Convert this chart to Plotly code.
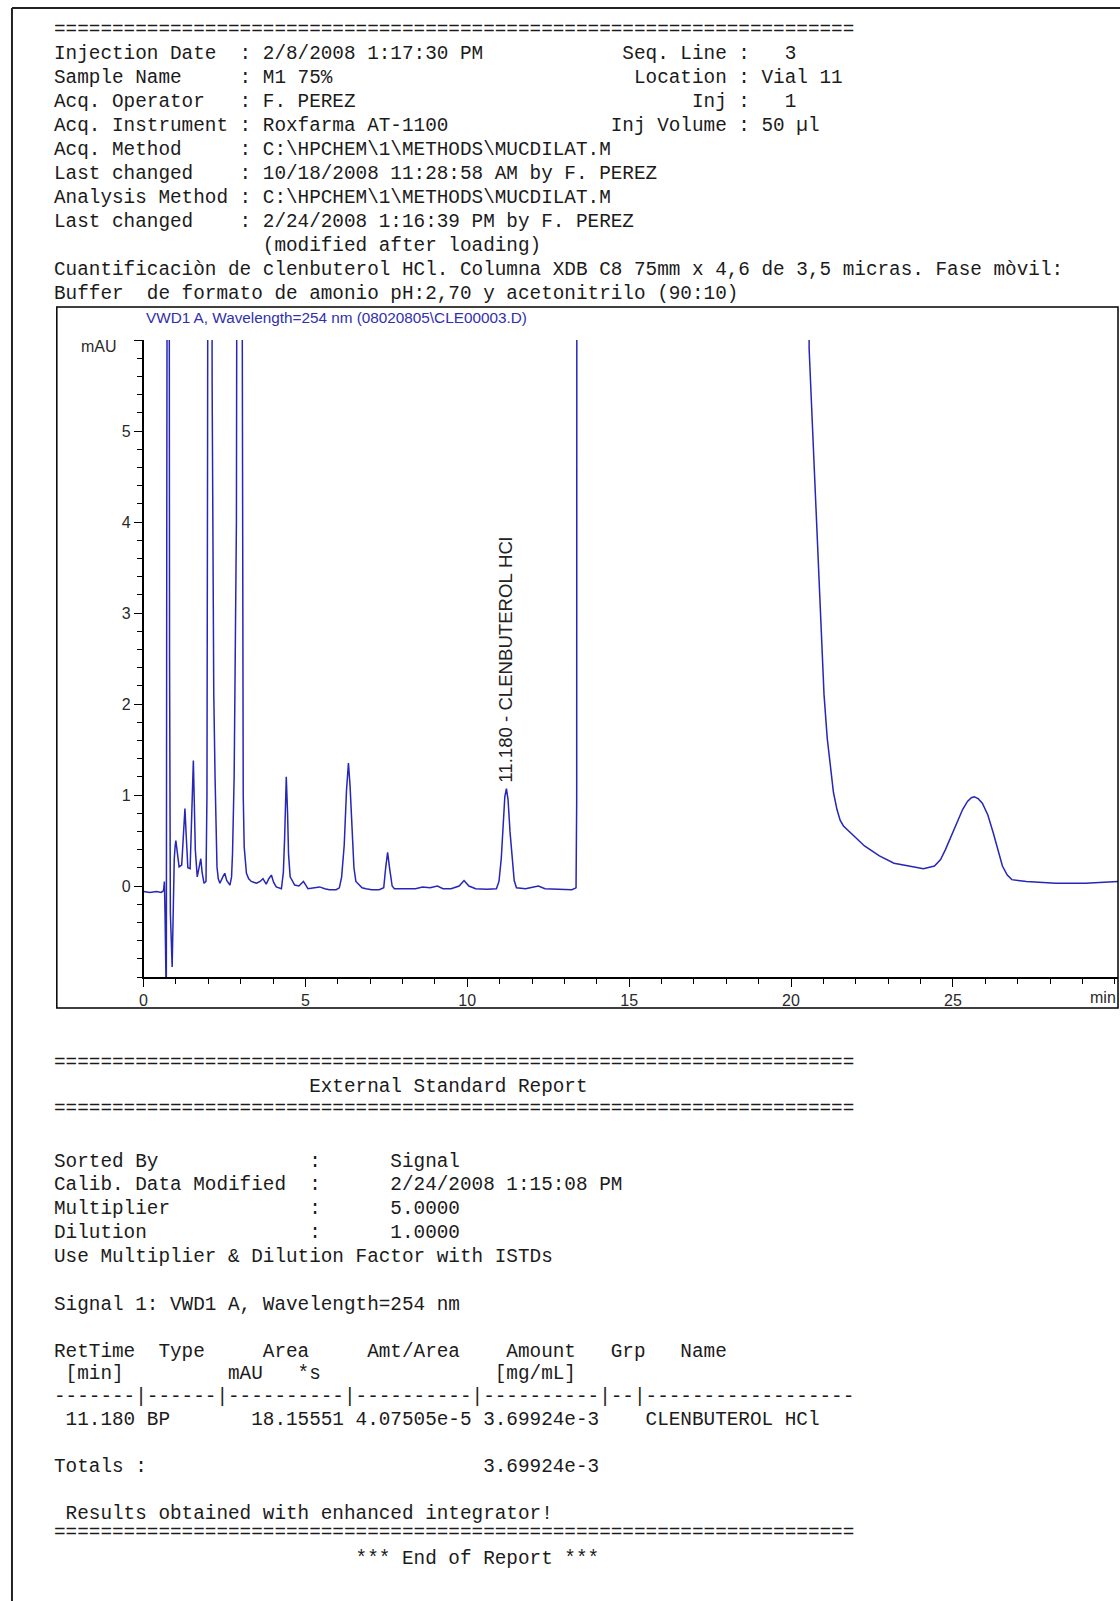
import plotly.graph_objects as go

W, H = 1120, 1601

# ---------------- data ----------------
time_min = [0.00, 0.20, 0.40, 0.55, 0.62, 0.645, 0.665, 0.685, 0.705, 0.72, 0.77, 0.805, 0.83, 0.885,
            0.925, 0.95, 0.98, 1.00, 1.04, 1.10, 1.18, 1.23, 1.28, 1.32, 1.37, 1.44, 1.49, 1.54, 1.57,
            1.60, 1.66, 1.72, 1.77, 1.81, 1.87, 1.93, 1.96, 1.98, 2.05, 2.12, 2.14, 2.17, 2.21, 2.24,
            2.27, 2.31, 2.36, 2.45, 2.51, 2.57, 2.67, 2.72, 2.75, 2.80, 2.83, 2.87, 2.92, 3.00, 3.04,
            3.06, 3.08, 3.11, 3.18, 3.25, 3.33, 3.49, 3.60, 3.69, 3.79, 3.87, 3.95, 4.02, 4.10, 4.26,
            4.32, 4.36, 4.41, 4.45, 4.48, 4.53, 4.67, 4.80, 4.94, 5.08, 5.25, 5.44, 5.60, 5.74, 5.95,
            6.05, 6.12, 6.20, 6.27, 6.33, 6.38, 6.44, 6.50, 6.56, 6.62, 6.75, 6.87, 7.05, 7.28, 7.42,
            7.48, 7.54, 7.60, 7.68, 7.75, 8.00, 8.40, 8.62, 8.85, 9.08, 9.25, 9.50, 9.75, 9.90, 10.05,
            10.26, 10.60, 10.90, 10.98, 11.05, 11.10, 11.16, 11.21, 11.26, 11.32, 11.38, 11.45, 11.52,
            11.80, 12.05, 12.20, 12.40, 12.72, 13.00, 13.23, 13.36, 13.38, 13.41, 20.45, 20.56, 20.66,
            20.78, 20.90, 21.02, 21.12, 21.22, 21.31, 21.42, 21.52, 21.62, 21.80, 21.98, 22.27, 22.73,
            23.18, 23.64, 24.09, 24.43, 24.62, 24.77, 24.95, 25.11, 25.30, 25.45, 25.57, 25.66, 25.78,
            25.91, 26.08, 26.25, 26.40, 26.53, 26.68, 26.82, 27.27, 28.18, 29.09, 30.00, 30.10]
signal_mau = [-0.06, -0.07, -0.06, -0.07, -0.05, 0.05, -0.3, -1.3, -1.3, 4.28, 18, 2.5, -0.3, -0.89,
              0.05, 0.3, 0.45, 0.5, 0.38, 0.21, 0.23, 0.55, 0.85, 0.55, 0.2, 0.19, 0.8, 1.38, 0.9,
              0.4, 0.10, 0.20, 0.30, 0.15, 0.03, 0.05, 1.0, 5.0, 25, 5.5, 3.6, 2.12, 1.2, 0.5,
              0.21, 0.08, 0.03, 0.10, 0.14, 0.06, 0.01, 0.10, 0.36, 1.2, 2.45, 4.0, 15, 25, 8,
              3.0, 1.0, 0.43, 0.14, 0.08, 0.05, 0.03, 0.05, 0.08, 0.02, 0.08, 0.12, 0.04, -0.01, -0.03,
              0.15, 0.54, 1.2, 0.8, 0.35, 0.10, 0.01, 0.00, 0.05, -0.03, -0.02, -0.01, -0.03, -0.04, -0.04,
              -0.02, 0.10, 0.45, 1.05, 1.35, 1.10, 0.60, 0.20, 0.05, 0.03, -0.02, -0.03, -0.04, -0.04, -0.02,
              0.20, 0.37, 0.20, 0.00, -0.03, -0.03, -0.03, -0.01, -0.02, 0.00, -0.03, -0.03, 0.00, 0.06, 0.00,
              -0.03, -0.035, -0.03, 0.05, 0.30, 0.60, 0.98, 1.07, 0.95, 0.60, 0.30, 0.06, -0.02,
              -0.03, -0.01, 0.00, -0.03, -0.035, -0.04, -0.04, -0.02, 0.93, 40, 40, 5.9, 5.05,
              4.05, 3.0, 2.1, 1.62, 1.28, 1.03, 0.84, 0.72, 0.66, 0.60, 0.54, 0.44, 0.33,
              0.25, 0.22, 0.19, 0.22, 0.29, 0.40, 0.55, 0.69, 0.84, 0.93, 0.97, 0.98, 0.96,
              0.91, 0.78, 0.58, 0.38, 0.22, 0.12, 0.07, 0.05, 0.03, 0.03, 0.05, 0.05]

x_tick_vals = [0, 5, 10, 15, 20, 25]
x_tick_text = ["0", "5", "10", "15", "20", "25"]
y_tick_vals = [0, 1, 2, 3, 4, 5, 6]
y_tick_text = ["0", "1", "2", "3", "4", "5", ""]

peak_time = 11.180
peak_label = "11.180 - CLENBUTEROL HCl"
chart_title = r"VWD1 A, Wavelength=254 nm (08020805\CLE00003.D)"
x_unit = "min"
y_unit = "mAU"

header_rows = [
    [(0, "=" * 69)],
    [(0, "Injection Date  : 2/8/2008 1:17:30 PM"), (49, "Seq. Line :   3")],
    [(0, "Sample Name     : M1 75%"), (50, "Location : Vial 11")],
    [(0, "Acq. Operator   : F. PEREZ"), (55, "Inj :   1")],
    [(0, "Acq. Instrument : Roxfarma AT-1100"), (48, "Inj Volume : 50 µl")],
    [(0, r"Acq. Method     : C:\HPCHEM\1\METHODS\MUCDILAT.M")],
    [(0, "Last changed    : 10/18/2008 11:28:58 AM by F. PEREZ")],
    [(0, r"Analysis Method : C:\HPCHEM\1\METHODS\MUCDILAT.M")],
    [(0, "Last changed    : 2/24/2008 1:16:39 PM by F. PEREZ")],
    [(18, "(modified after loading)")],
    [(0, "Cuantificaciòn de clenbuterol HCl. Columna XDB C8 75mm x 4,6 de 3,5 micras. Fase mòvil:")],
    [(0, "Buffer  de formato de amonio pH:2,70 y acetonitrilo (90:10)")],
]

report_rows = [
    [(0, "=" * 69)],
    [(22, "External Standard Report")],
    [(0, "=" * 69)],
    [(0, "Sorted By"), (22, ":"), (29, "Signal")],
    [(0, "Calib. Data Modified"), (22, ":"), (29, "2/24/2008 1:15:08 PM")],
    [(0, "Multiplier"), (22, ":"), (29, "5.0000")],
    [(0, "Dilution"), (22, ":"), (29, "1.0000")],
    [(0, "Use Multiplier & Dilution Factor with ISTDs")],
    [(0, "Signal 1: VWD1 A, Wavelength=254 nm")],
    [(0, "RetTime"), (9, "Type"), (18, "Area"), (27, "Amt/Area"), (39, "Amount"), (48, "Grp"), (54, "Name")],
    [(1, "[min]"), (15, "mAU"), (21, "*s"), (38, "[mg/mL]")],
    [(0, "-------|------|----------|----------|----------|--|------------------")],
    [(1, "11.180"), (8, "BP"), (17, "18.15551"), (26, "4.07505e-5"), (37, "3.69924e-3"), (51, "CLENBUTEROL HCl")],
    [(0, "Totals :"), (37, "3.69924e-3")],
    [(1, "Results obtained with enhanced integrator!")],
    [(0, "=" * 69)],
    [(26, "*** End of Report ***")],
]

# ---------------- layout helpers ----------------
def build(parts):
    chars = []
    for col, txt in parts:
        while len(chars) < col:
            chars.append(" ")
        chars[col:col + len(txt)] = list(txt)
    return "".join(chars).replace(" ", "\u00a0")

def px_x(x):
    return x / W

def px_y(y):
    return 1 - y / H

fig = go.Figure()
fig.add_trace(go.Scatter(x=time_min, y=signal_mau, mode="lines",
                         line=dict(color="#2626b8", width=1.5), hoverinfo="skip",
                         showlegend=False))

tick_font = dict(family="Liberation Sans, Arial, sans-serif", size=16, color="#2a2a2a")

fig.update_layout(
    width=W, height=H,
    margin=dict(l=0, r=0, t=0, b=0),
    paper_bgcolor="white", plot_bgcolor="white",
    showlegend=False,
    xaxis=dict(domain=[px_x(140), px_x(1118)], range=[0, 30.1],
               showline=True, linecolor="black", linewidth=1.5,
               showgrid=False, zeroline=False,
               tickmode="array", tickvals=x_tick_vals, ticktext=x_tick_text,
               ticks="outside", ticklen=8, tickwidth=1, tickcolor="black",
               tickfont=tick_font,
               minor=dict(tickmode="linear", tick0=0, dtick=1, ticks="outside",
                          ticklen=5, tickwidth=1, tickcolor="black", showgrid=False)),
    yaxis=dict(domain=[px_y(977), px_y(340)], range=[-1, 6],
               showline=True, linecolor="black", linewidth=1.5,
               showgrid=False, zeroline=False,
               tickmode="array", tickvals=y_tick_vals, ticktext=y_tick_text,
               ticks="outside", ticklen=8, tickwidth=1, tickcolor="black",
               tickfont=tick_font,
               minor=dict(tickmode="linear", tick0=0, dtick=0.2, ticks="outside",
                          ticklen=5, tickwidth=1, tickcolor="black", showgrid=False)),
)

# page border (left + top) and chart frame
fig.add_shape(type="line", xref="paper", yref="paper", x0=px_x(8), x1=px_x(8), y0=0, y1=px_y(8),
              line=dict(color="#222", width=2))
fig.add_shape(type="line", xref="paper", yref="paper", x0=px_x(8), x1=1, y0=px_y(8), y1=px_y(8),
              line=dict(color="#222", width=2))
fig.add_shape(type="rect", xref="paper", yref="paper", x0=px_x(53), x1=px_x(1118),
              y0=px_y(1008), y1=px_y(307), line=dict(color="black", width=1.5))

mono = "Liberation Mono, Courier New, monospace"

def add_rows(rows, ys, size, x0=49):
    for parts, y in zip(rows, ys):
        fig.add_annotation(x=px_x(x0), y=px_y(y), xref="paper", yref="paper",
                           text=build(parts), showarrow=False, xanchor="left", yanchor="middle",
                           borderpad=0, font=dict(family=mono, size=size, color="#1b1b1b"))

header_y = [29.5 + 24.05 * i for i in range(len(header_rows))]
add_rows(header_rows, header_y, 19.33)

report_y = [1063, 1087, 1109, 1162, 1185, 1209, 1233, 1257, 1305, 1352, 1374, 1397, 1420,
            1467, 1514, 1533, 1559]
add_rows(report_rows, report_y, 19.33)

# chart texts
fig.add_annotation(x=px_x(142), y=px_y(317), xref="paper", yref="paper", text=chart_title,
                   showarrow=False, xanchor="left", yanchor="middle", borderpad=0,
                   font=dict(family="Liberation Sans, Arial, sans-serif", size=15.3, color="#2f2fb0"))
fig.add_annotation(x=px_x(114), y=px_y(347), xref="paper", yref="paper", text=y_unit,
                   showarrow=False, xanchor="right", yanchor="middle", borderpad=0, font=tick_font)
fig.add_annotation(x=px_x(1117), y=px_y(998), xref="paper", yref="paper", text=x_unit,
                   showarrow=False, xanchor="right", yanchor="middle", borderpad=0, font=tick_font)
fig.add_annotation(x=peak_time, y=1.13, xref="x", yref="y", text=peak_label.replace(" ", "\u00a0"),
                   textangle=-90, showarrow=False, xanchor="center", yanchor="bottom", borderpad=0,
                   font=dict(family="Liberation Sans, Arial, sans-serif", size=18.6, color="#222"))

fig.write_html("out.html")
